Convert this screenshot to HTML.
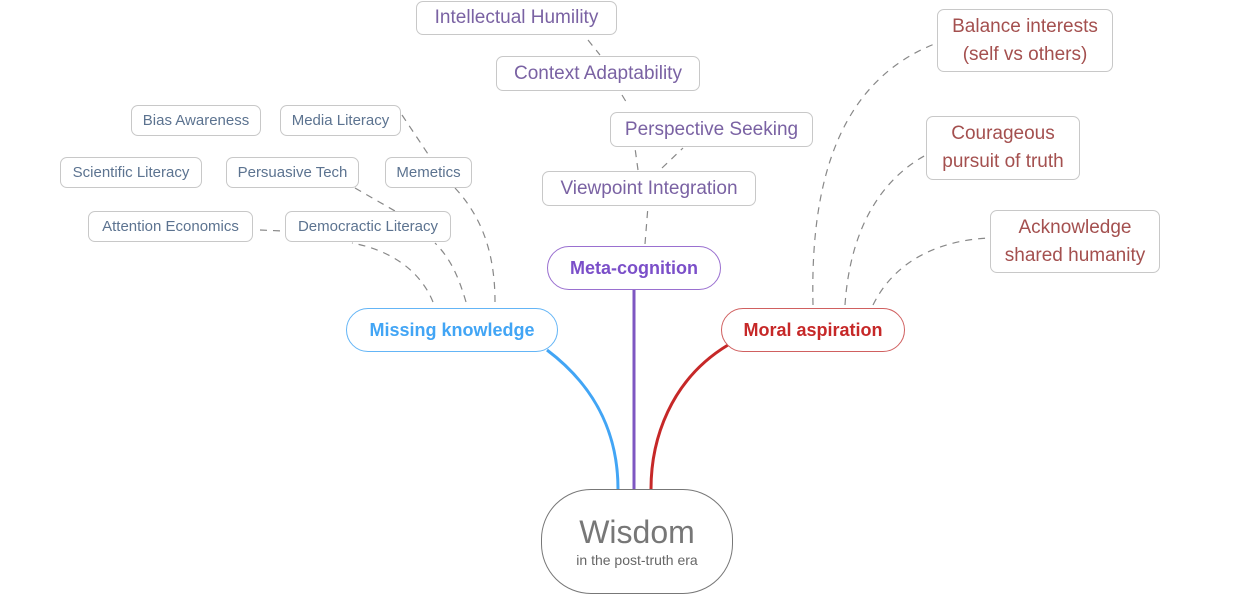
<!DOCTYPE html>
<html><head><meta charset="utf-8"><style>
body{margin:0;width:1238px;height:600px;background:#fff;position:relative;overflow:hidden;font-family:"Liberation Sans",sans-serif}
.n{position:absolute;box-sizing:border-box;border:1px solid #c8c8c8;border-radius:7px;background:#fff;display:flex;align-items:center;justify-content:center;text-align:center;white-space:nowrap}
.s{font-size:15px;color:#5c7390}
.p{font-size:19px;color:#7a62a3}
.r{font-size:19px;color:#a4504f;line-height:28px}
.m{border-radius:24px;font-size:18px;font-weight:bold}
svg{position:absolute;left:0;top:0}
</style></head><body>
<svg width="1238" height="600" fill="none">
<g stroke="#888" stroke-width="1.2" stroke-dasharray="7 6">
<path d="M433 302 C420 270 390 250 352 243"/>
<path d="M466 302 C458 275 450 258 435 243"/>
<path d="M495 302 C495 250 480 215 455 188"/>
<path d="M355 188 L395 211"/>
<path d="M402 115 L430 157"/>
<path d="M260 230 L283 231"/>
<path d="M645 244 L648 206"/>
<path d="M638 170 L635 148"/>
<path d="M662 168 L683 148"/>
<path d="M622 95 L628 105"/>
<path d="M588 40 L600 55"/>
<path d="M813 305 C810 180 840 80 937 43"/>
<path d="M845 305 C850 230 880 180 926 155"/>
<path d="M873 305 C895 260 940 240 990 238"/>
</g>
<path d="M547 350 C600 390 618 440 618 489" stroke="#42a5f5" stroke-width="3"/>
<path d="M634 290 L634 489" stroke="#7e57c2" stroke-width="3"/>
<path d="M728 345 C670 380 651 440 651 489" stroke="#c62828" stroke-width="3"/>
</svg>
<div class="n p" style="left:416px;top:1px;width:201px;height:34px">Intellectual Humility</div>
<div class="n p" style="left:496px;top:56px;width:204px;height:35px">Context Adaptability</div>
<div class="n p" style="left:610px;top:112px;width:203px;height:35px">Perspective Seeking</div>
<div class="n p" style="left:542px;top:171px;width:214px;height:35px">Viewpoint Integration</div>
<div class="n m" style="left:547px;top:246px;width:174px;height:44px;border-color:#9a70d0;color:#7b4fc9">Meta-cognition</div>
<div class="n m" style="left:346px;top:308px;width:212px;height:44px;border-color:#64b5f6;color:#42a5f5">Missing knowledge</div>
<div class="n m" style="left:721px;top:308px;width:184px;height:44px;border-color:#d06060;color:#c62828">Moral aspiration</div>
<div class="n r" style="left:937px;top:9px;width:176px;height:63px">Balance interests<br>(self vs others)</div>
<div class="n r" style="left:926px;top:116px;width:154px;height:64px">Courageous<br>pursuit of truth</div>
<div class="n r" style="left:990px;top:210px;width:170px;height:63px">Acknowledge<br>shared humanity</div>
<div class="n s" style="left:131px;top:105px;width:130px;height:31px">Bias Awareness</div>
<div class="n s" style="left:280px;top:105px;width:121px;height:31px">Media Literacy</div>
<div class="n s" style="left:60px;top:157px;width:142px;height:31px">Scientific Literacy</div>
<div class="n s" style="left:226px;top:157px;width:133px;height:31px">Persuasive Tech</div>
<div class="n s" style="left:385px;top:157px;width:87px;height:31px">Memetics</div>
<div class="n s" style="left:88px;top:211px;width:165px;height:31px">Attention Economics</div>
<div class="n s" style="left:285px;top:211px;width:166px;height:31px">Democractic Literacy</div>
<div class="n" style="left:541px;top:489px;width:192px;height:105px;border-radius:50px;border-color:#777;flex-direction:column;color:#777">
<div style="font-size:32px;line-height:36px">Wisdom</div>
<div style="font-size:14px;line-height:20px;color:#666">in the post-truth era</div>
</div>
</body></html>
